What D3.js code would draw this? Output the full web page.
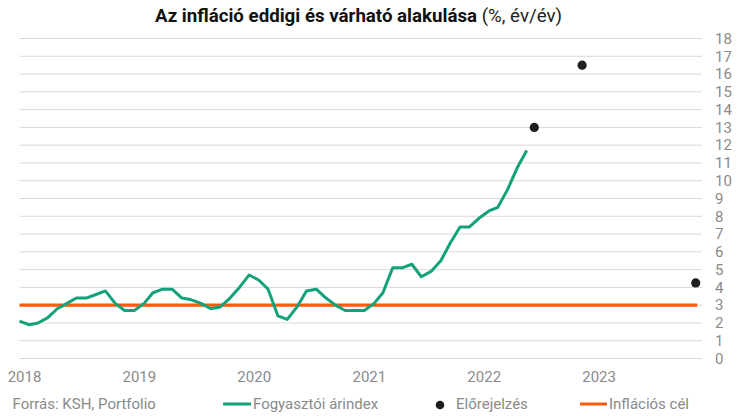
<!DOCTYPE html>
<html>
<head>
<meta charset="utf-8">
<script src="https://cdn.jsdelivr.net/npm/d3@7"></script>
<style>
  html, body { margin: 0; padding: 0; background: #fff; }
  svg { display: block; font-family: Roboto, "Noto Sans", sans-serif; }
</style>
</head>
<body>
<div id="chart"></div>
<script>
// Fogyasztói árindex (KSH), havi, év/év %
const cpiMonths = [
  "2018-01", "2018-02", "2018-03", "2018-04", "2018-05", "2018-06",
  "2018-07", "2018-08", "2018-09", "2018-10", "2018-11", "2018-12",
  "2019-01", "2019-02", "2019-03", "2019-04", "2019-05", "2019-06",
  "2019-07", "2019-08", "2019-09", "2019-10", "2019-11", "2019-12",
  "2020-01", "2020-02", "2020-03", "2020-04", "2020-05", "2020-06",
  "2020-07", "2020-08", "2020-09", "2020-10", "2020-11", "2020-12",
  "2021-01", "2021-02", "2021-03", "2021-04", "2021-05", "2021-06",
  "2021-07", "2021-08", "2021-09", "2021-10", "2021-11", "2021-12",
  "2022-01", "2022-02", "2022-03", "2022-04", "2022-05", "2022-06"
];
const cpiValues = [
  2.1, 1.9, 2.0, 2.3, 2.8, 3.1, 3.4, 3.4, 3.6, 3.8, 3.1, 2.7,
  2.7, 3.1, 3.7, 3.9, 3.9, 3.4, 3.3, 3.1, 2.8, 2.9, 3.4, 4.0,
  4.7, 4.4, 3.9, 2.4, 2.2, 2.9, 3.8, 3.9, 3.4, 3.0, 2.7, 2.7,
  2.7, 3.1, 3.7, 5.1, 5.1, 5.3, 4.6, 4.9, 5.5, 6.5, 7.4, 7.4,
  7.9, 8.3, 8.5, 9.5, 10.7, 11.7
];

// Előrejelzés pontok
const forecastDates = ["2022-06-25", "2022-11-24", "2023-11-20"];
const forecastValues = [13.0, 16.5, 4.25];

// Inflációs cél
const targetDates = ["2018-01-01", "2023-11-25"];
const targetValues = [3, 3];

const yTicks = d3.range(0, 19);
const yearTicks = ["2018", "2019", "2020", "2021", "2022", "2023"];

const width = 737, height = 416;
const margin = { top: 38.5, right: 35, bottom: 57.5, left: 19.5 };

const green = "#14a27a", orange = "#ff5a0a", dotColor = "#1c2120";
const gridColor = "#d9d9d9", textGray = "#8a8a8a";

const parseMonth = d3.timeParse("%Y-%m");
const parseDay = d3.timeParse("%Y-%m-%d");

const cpi = cpiMonths.map((m, i) => ({ date: parseMonth(m), value: cpiValues[i] }));
const forecast = forecastDates.map((d, i) => ({ date: parseDay(d), value: forecastValues[i] }));
const target = targetDates.map((d, i) => ({ date: parseDay(d), value: targetValues[i] }));

const svg = d3.select("#chart").append("svg")
  .attr("width", width)
  .attr("height", height);

const x = d3.scaleTime()
  .domain([parseDay("2018-01-01"), parseDay("2023-12-10")])
  .range([margin.left, width - margin.right]);

const y = d3.scaleLinear()
  .domain([0, 18])
  .range([height - margin.bottom, margin.top]);

// title
const title = svg.append("text")
  .attr("x", 358.5)
  .attr("y", 22)
  .attr("text-anchor", "middle")
  .attr("font-size", 18.7)
  .attr("fill", "#111");
title.append("tspan").attr("font-weight", "bold").text("Az infláció eddigi és várható alakulása");
title.append("tspan").attr("fill", "#222").text(" (%, év/év)");

// horizontal gridlines
svg.append("g")
  .selectAll("line")
  .data(yTicks)
  .join("line")
  .attr("x1", margin.left)
  .attr("x2", width - margin.right)
  .attr("y1", d => y(d))
  .attr("y2", d => y(d))
  .attr("stroke", gridColor)
  .attr("stroke-width", 1);

// right axis labels
const yAxis = d3.axisRight(y).tickValues(yTicks).tickSize(0).tickPadding(0);
const gy = svg.append("g")
  .attr("transform", `translate(715,0)`)
  .call(yAxis);
gy.select(".domain").remove();
gy.selectAll("text")
  .attr("font-family", "Roboto, sans-serif")
  .attr("font-size", 15)
  .attr("fill", textGray);

// bottom year labels
const xAxis = d3.axisBottom(x)
  .tickValues(yearTicks.map(yr => parseDay(yr + "-01-01")))
  .tickFormat(d3.timeFormat("%Y"))
  .tickSize(0)
  .tickPadding(0);
const gx = svg.append("g")
  .attr("transform", `translate(4.5,${height - margin.bottom + 13})`)
  .call(xAxis);
gx.select(".domain").remove();
gx.selectAll("text")
  .attr("font-family", "Roboto, sans-serif")
  .attr("font-size", 15)
  .attr("fill", textGray);

// inflation target
const line = d3.line().x(d => x(d.date)).y(d => y(d.value));

svg.append("path")
  .datum(target)
  .attr("fill", "none")
  .attr("stroke", orange)
  .attr("stroke-width", 3.2)
  .attr("d", line);

// CPI line
svg.append("path")
  .datum(cpi)
  .attr("fill", "none")
  .attr("stroke", green)
  .attr("stroke-width", 3)
  .attr("stroke-linejoin", "round")
  .attr("d", line);

// forecast dots
svg.append("g")
  .selectAll("circle")
  .data(forecast)
  .join("circle")
  .attr("cx", d => x(d.date))
  .attr("cy", d => y(d.value))
  .attr("r", 4.6)
  .attr("fill", dotColor);

// footer: source + legend
const footY = 409;
svg.append("text")
  .attr("x", 12.5)
  .attr("y", footY)
  .attr("font-size", 15)
  .attr("fill", textGray)
  .text("Forrás: KSH, Portfolio");

const legend = svg.append("g").attr("font-size", 15).attr("fill", textGray);

legend.append("line")
  .attr("x1", 223).attr("x2", 251)
  .attr("y1", 404).attr("y2", 404)
  .attr("stroke", green).attr("stroke-width", 3);
legend.append("text").attr("x", 253).attr("y", footY).text("Fogyasztói árindex");

legend.append("circle")
  .attr("cx", 440).attr("cy", 405).attr("r", 4.3)
  .attr("fill", dotColor);
legend.append("text").attr("x", 456).attr("y", footY).text("Előrejelzés");

legend.append("line")
  .attr("x1", 580).attr("x2", 607)
  .attr("y1", 404).attr("y2", 404)
  .attr("stroke", orange).attr("stroke-width", 3);
legend.append("text").attr("x", 609).attr("y", footY).text("Inflációs cél");
</script>
</body>
</html>
